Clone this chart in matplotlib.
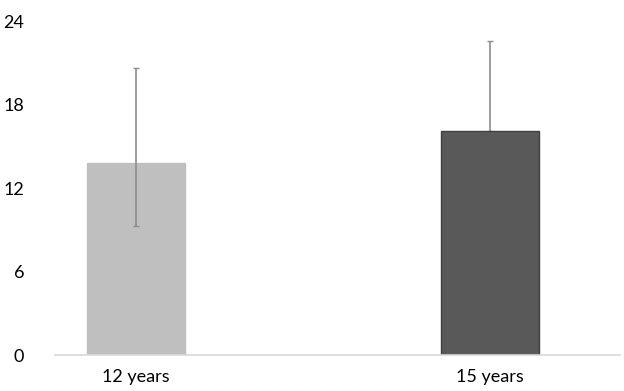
import matplotlib.pyplot as plt

plt.rcParams['font.family'] = ['Lato', 'DejaVu Sans']

categories = ['12 years', '15 years']
values = [13.8, 16.1]
err_low = [4.5, 0.0]
err_high = [6.8, 6.5]
colors = ['#bfbfbf', '#595959']
edges = ['#bfbfbf', '#404040']
yticks = [0, 6, 12, 18, 24]

fig = plt.figure(figsize=(6.24, 3.91), dpi=100)
ax = fig.add_axes([0.088, 0.092, 0.906, 0.854])

x = list(range(len(categories)))
ax.bar(x, values, width=0.277, color=colors, edgecolor=edges, linewidth=1, zorder=2)
# first bar's whisker sits over the bar, the second one's lower part is hidden
ax.errorbar(x[0], values[0], yerr=[[err_low[0]], [err_high[0]]], fmt='none',
            ecolor='#8c8c8c', elinewidth=1.2, capsize=2.5, capthick=1, zorder=3)
ax.errorbar(x[1], values[1], yerr=[[err_low[1]], [err_high[1]]], fmt='none',
            ecolor='#8c8c8c', elinewidth=1.2, capsize=2.5, capthick=1, zorder=1)

ax.set_xlim(-0.229, 1.367)
ax.set_ylim(0, 24)
ax.set_yticks(yticks)
ax.set_yticklabels([str(t) for t in yticks], fontsize=13)
ax.set_xticks(x)
ax.set_xticklabels(categories, fontsize=13)
ax.tick_params(axis='x', length=0, pad=10)
ax.tick_params(axis='y', length=0, pad=22)

for s in ['top', 'right', 'left']:
    ax.spines[s].set_visible(False)
ax.spines['bottom'].set_color('#d9d9d9')
ax.spines['bottom'].set_linewidth(1.2)

fig.savefig('out.png', dpi=100)
